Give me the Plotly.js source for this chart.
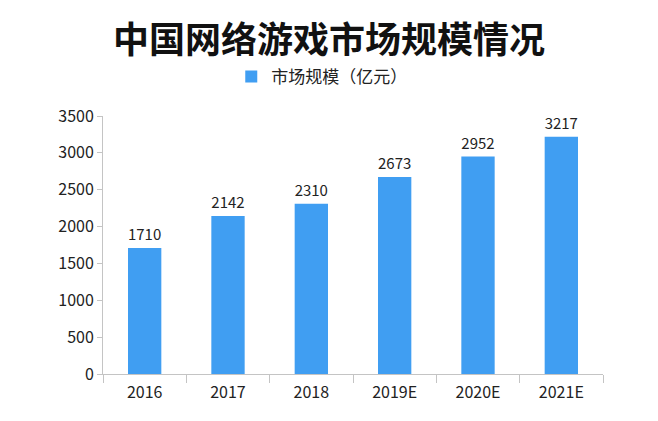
<!DOCTYPE html>
<html>
<head>
<meta charset="utf-8">
<script src="https://cdn.plot.ly/plotly-3.0.1.min.js"></script>
<style>html,body{margin:0;padding:0;background:#fff;}#chart{width:658px;height:421px;}</style>
</head>
<body>
<div id="chart"></div>
<script>
var categories = ["2016", "2017", "2018", "2019E", "2020E", "2021E"];
var marketSize = [1710, 2142, 2310, 2673, 2952, 3217];
var seriesName = "市场规模（亿元）";
var chartTitle = "中国网络游戏市场规模情况";
var yTicks = [0, 500, 1000, 1500, 2000, 2500, 3000, 3500];

var FONT = "Noto Sans CJK SC, Noto Sans, sans-serif";
var trace = {
  type: "bar",
  x: categories,
  y: marketSize,
  name: seriesName,
  marker: {color: "#409EF2"},
  text: marketSize.map(String),
  textposition: "outside",
  textfont: {family: FONT, size: 16, color: "#222"},
  cliponaxis: false,
  hoverinfo: "x+y"
};
var layout = {
  width: 658, height: 421,
  margin: {l: 103, r: 55, t: 116, b: 47},
  paper_bgcolor: "#ffffff",
  plot_bgcolor: "#ffffff",
  font: {family: FONT, color: "#222"},
  title: {text: "<b>" + chartTitle + "</b>", font: {family: FONT, size: 36, color: "#111"},
          x: 0.5, xref: "container", xanchor: "center", y: 0.905, yref: "container", yanchor: "middle"},
  showlegend: true,
  legend: {orientation: "h", xref: "container", yref: "container", x: 0.489, xanchor: "center",
           y: 0.817, yanchor: "middle", font: {family: FONT, size: 17, color: "#222"}, itemwidth: 30},
  bargap: 0.6,
  xaxis: {type: "category", showline: true, linecolor: "#c4c4c4", linewidth: 1,
          ticks: "outside", tickson: "boundaries", ticklen: 8, tickcolor: "#c4c4c4",
          ticklabelstandoff: 4,
          tickfont: {family: FONT, size: 16, color: "#222"}, showgrid: false, zeroline: false},
  yaxis: {range: [0, 3500], tickvals: yTicks, showline: true, linecolor: "#c4c4c4", linewidth: 1,
          ticks: "outside", ticklen: 5, tickcolor: "#c4c4c4", showgrid: false, zeroline: false,
          tickfont: {family: FONT, size: 16, color: "#222"}}
};
Plotly.newPlot("chart", [trace], layout, {displayModeBar: false, staticPlot: true});
</script>
</body>
</html>
